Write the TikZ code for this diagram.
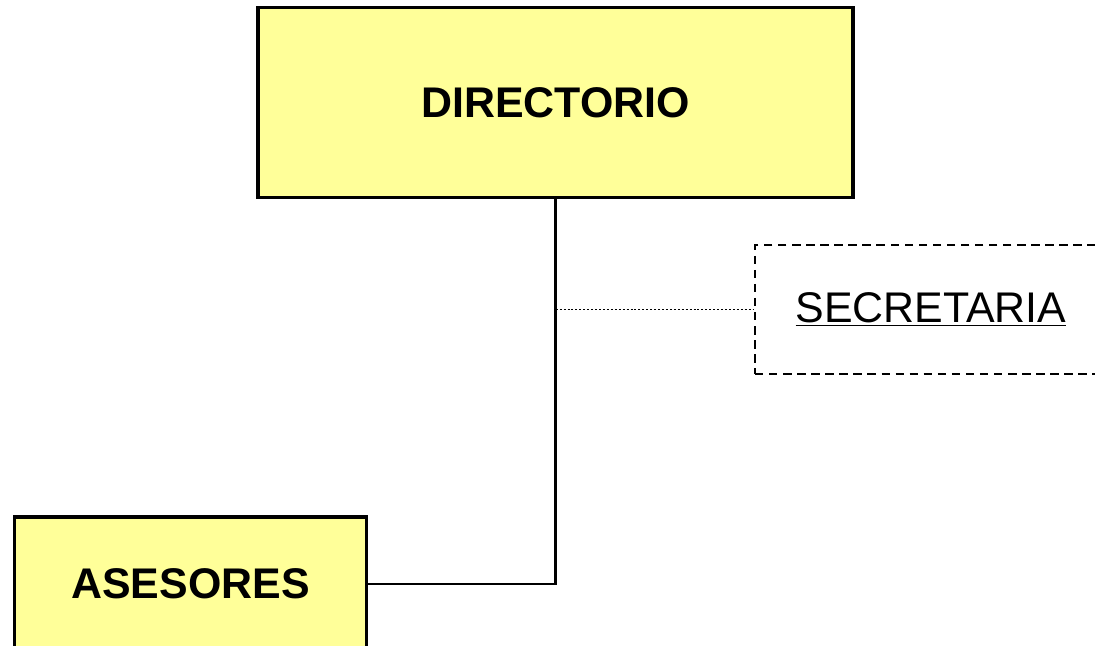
\documentclass[tikz,border=0pt]{standalone}
\usepackage{fontspec}
\setmainfont{Liberation Sans}
\usetikzlibrary{positioning}

\definecolor{cajaamarilla}{RGB}{255,255,153}

\begin{document}
\begin{tikzpicture}[x=0.025cm, y=-0.025cm,
  every text node part/.style={align=center},
  cargo/.style={draw, line width=2.2pt, fill=cajaamarilla, font=\fontsize{30.5}{36}\selectfont\bfseries},
  staff/.style={draw, dashed, line width=1.5pt, dash pattern=on 6pt off 4pt, font=\fontsize{30.5}{36}\selectfont}]
 \clip (0,0) rectangle (1095,645);
 \useasboundingbox (0,0) rectangle (1095,645);

 \node[cargo, minimum width=14.87cm, minimum height=4.77cm] (directorio) at (555.5,102.5) {DIRECTORIO};
 \node[staff, minimum width=8.8cm, minimum height=3.22cm] (secretaria) at (931,309.5) {\underline{SECRETARIA}};
 \node[cargo, minimum width=8.82cm, minimum height=3.35cm] (asesores) at (190.5,584) {ASESORES};

 \path[draw, line width=1.8pt] (directorio.south) |- (asesores.east);
 \path[draw, line width=1.4pt, dash pattern=on 1.4pt off 1.4pt] (directorio.south) |- (secretaria.west);

\end{tikzpicture}
\end{document}
